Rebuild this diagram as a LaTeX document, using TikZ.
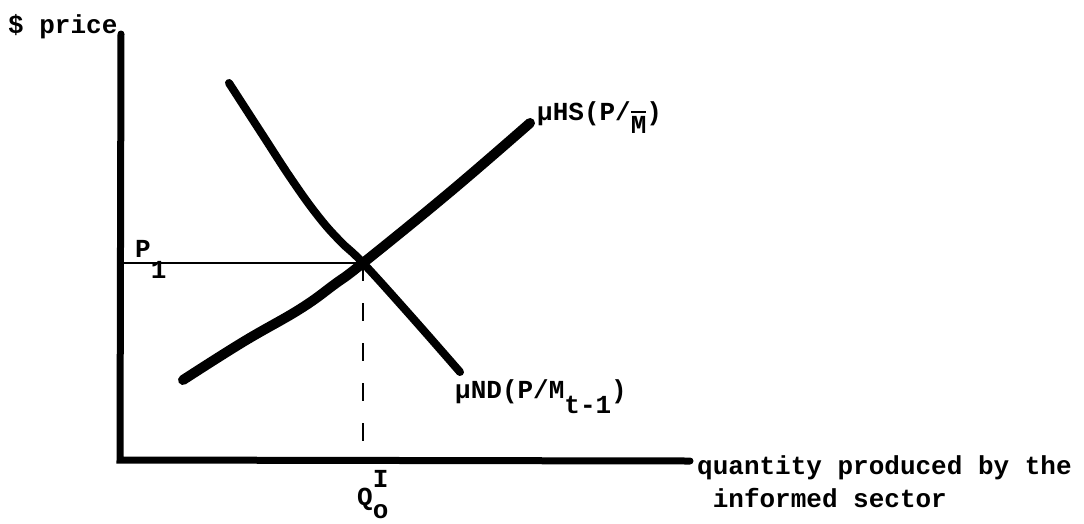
\documentclass[tikz,border=0pt]{standalone}
\usepackage{fontspec}
\newfontfamily\tw{Liberation Mono}
\begin{document}
\begin{tikzpicture}[x=1pt,y=-1pt,
  axisline/.style={line width=7pt, line cap=round},
  thickcurve/.style={line width=10pt, line cap=round, line join=round},
  medcurve/.style={line width=8pt, line cap=round, line join=round},
  guide/.style={line width=1.8pt},
  dashguide/.style={line width=1.5pt, dash pattern=on 18pt off 22pt},
  lbl/.style={inner sep=0pt, anchor=base west, font=\tw\bfseries\fontsize{26}{33}\selectfont}]
\useasboundingbox (0,0) rectangle (1084,523);
% axes
\coordinate (ytop) at (121,34);
\coordinate (origin) at (120,460);
\coordinate (xend) at (690,461);
\draw[axisline] (ytop) -- (origin) -- (xend);
% equilibrium
\coordinate (eq) at (363,263);
\coordinate (p1) at (121,263);
\coordinate (q0) at (363,460);
\draw[guide] (p1) -- (eq);
\draw[dashguide] (eq) -- (q0);
% demand curve
\draw[medcurve] plot[smooth, tension=0.7] coordinates {(229,83) (262,134) (292,180) (318,216) (340,241) (363,263) (410,315) (460,372)};
% supply curve
\draw[thickcurve] plot[smooth, tension=0.7] coordinates {(183,380) (243,342) (300,309) (335,284) (363,263) (450,192) (530,123)};
% labels
\node[lbl] (price) at (8,33) {\$ price};
\node[lbl] (plabel) at (135,257) {P\raisebox{-21pt}{1}};
\node[lbl] (hs) at (537,120) {\char"00B5 HS(P/\raisebox{-13pt}{\makebox[0pt][l]{\rule[20pt]{15.6pt}{2pt}}M})};
\node[lbl] (nd) at (455,398) {\char"00B5 ND(P/M\raisebox{-15pt}{t-1})};
\node[lbl] (qlabel) at (357,505) {Q\makebox[0pt][l]{\raisebox{-13pt}{o}}\raisebox{18pt}{I}};
\node[lbl, align=left] (xlabel) at (697,507) {quantity produced by the\\\hphantom{x}informed sector};
\end{tikzpicture}
\end{document}
